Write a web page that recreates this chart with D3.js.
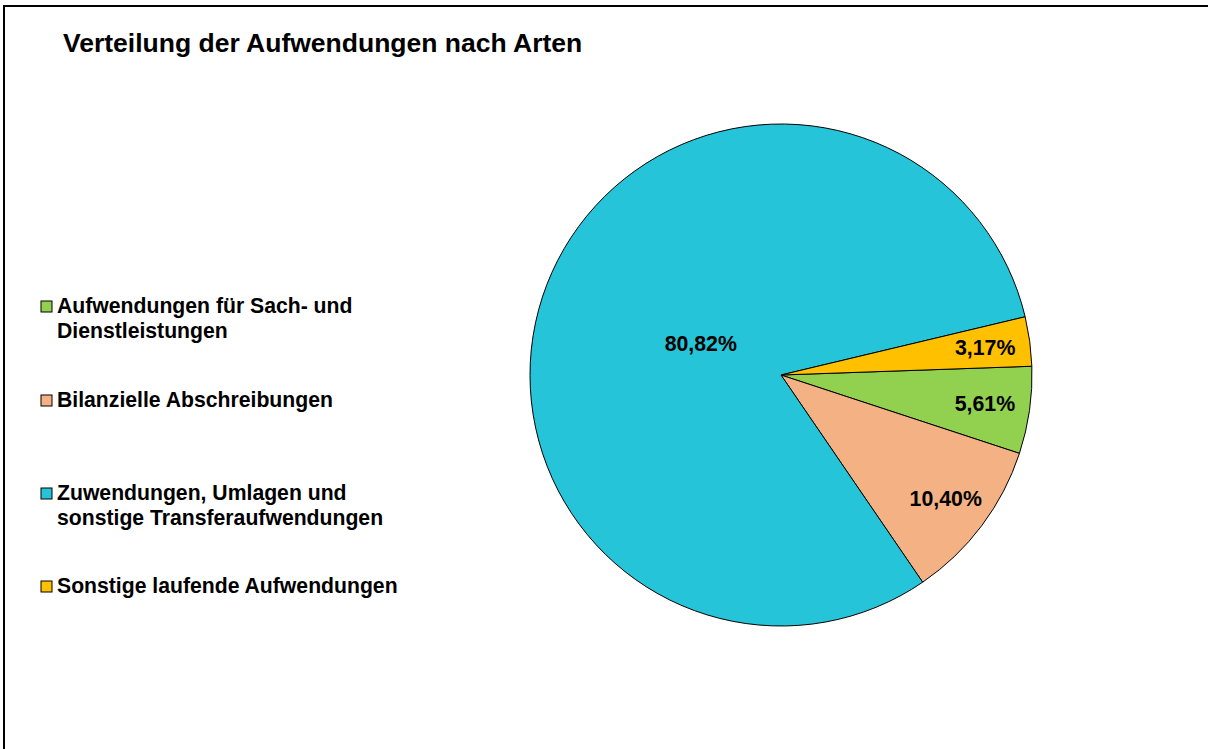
<!DOCTYPE html>
<meta charset="utf-8">
<head>
    <title>Verteilung der Aufwendungen nach Arten</title>
    <style>
        body { margin: 0; background: #fff; overflow: hidden; }
        svg { display: block; }
        text { font-family: "Liberation Sans", Arial, sans-serif; font-weight: bold; fill: #000; }
    </style>
</head>
<body>
<script src="https://d3js.org/d3.v7.min.js"></script>
<svg id="chart" width="1208" height="749"></svg>

<script>
    // data
    var categories = [
        ["Aufwendungen für Sach- und", "Dienstleistungen"],
        ["Bilanzielle Abschreibungen"],
        ["Zuwendungen, Umlagen und", "sonstige Transferaufwendungen"],
        ["Sonstige laufende Aufwendungen"]
    ];
    var values = [5.61, 10.40, 80.82, 3.17];
    var colors = ["#92d050", "#f4b183", "#26c4d8", "#ffc000"];

    var svg = d3.select("#chart"),
        cx = 781, cy = 375, r = 251,
        start = 88 * Math.PI / 180;

    // frame: only left and top edges are inside the picture
    svg.append("path")
        .attr("d", "M4,749V6H1208")
        .attr("fill", "none").attr("stroke", "#000").attr("stroke-width", 2);

    svg.append("text")
        .attr("x", 63).attr("y", 52)
        .style("font-size", "26.5px")
        .text("Verteilung der Aufwendungen nach Arten");

    var pie = d3.pie().sort(null).startAngle(start).endAngle(start + 2 * Math.PI);
    var arcs = pie(values);
    var arc = d3.arc().innerRadius(0).outerRadius(r);

    var g = svg.append("g").attr("transform", "translate(" + cx + "," + cy + ")");
    g.selectAll("path")
        .data(arcs)
        .enter().append("path")
        .attr("d", arc)
        .attr("fill", function (d, i) { return colors[i]; })
        .attr("stroke", "#000")
        .attr("stroke-width", 1);

    var fmt = function (v) { return v.toFixed(2).replace(".", ",") + "%"; };
    g.selectAll("text.lbl")
        .data(arcs)
        .enter().append("text")
        .attr("class", "lbl")
        .attr("text-anchor", "middle")
        .attr("dy", "0.35em")
        .style("font-size", "21.3px")
        .attr("transform", function (d) {
            var k = d.value > 50 ? 86 : 206;
            var a = (d.startAngle + d.endAngle) / 2;
            return "translate(" + (Math.sin(a) * k) + "," + (-Math.cos(a) * k) + ")";
        })
        .text(function (d) { return fmt(d.value); });

    // legend
    var legendY = [313, 407, 500, 593];
    var leg = svg.append("g");
    categories.forEach(function (lines, i) {
        leg.append("rect")
            .attr("x", 41).attr("y", legendY[i] - 12)
            .attr("width", 11).attr("height", 11)
            .attr("fill", colors[i]).attr("stroke", "#000").attr("stroke-width", 1);
        var t = leg.append("text").attr("x", 57).attr("y", legendY[i]).style("font-size", "21.2px");
        lines.forEach(function (s, j) {
            t.append("tspan").attr("x", 57).attr("dy", j ? 25 : 0).text(s);
        });
    });
</script>
</body>
